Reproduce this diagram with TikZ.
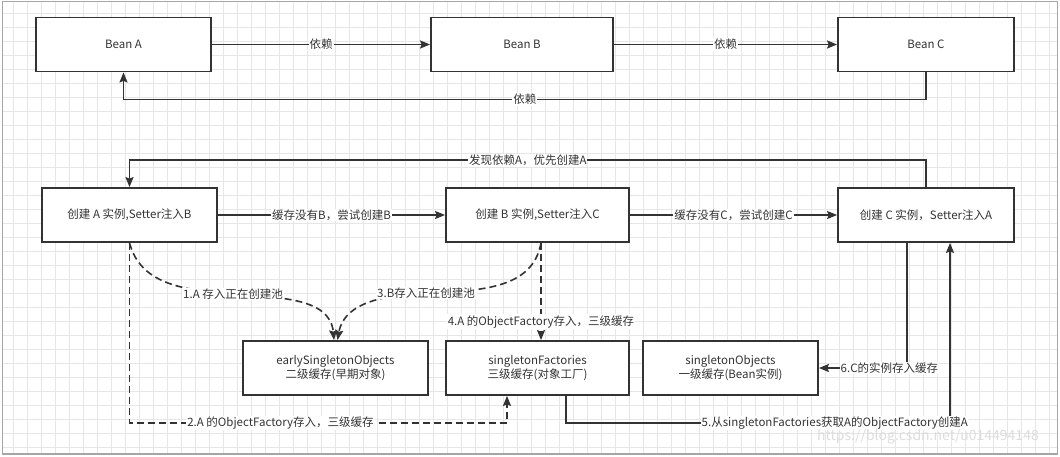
\documentclass[tikz,border=0pt]{standalone}
\usepackage{fontspec}
\setmainfont{Noto Sans CJK SC}
\usetikzlibrary{arrows.meta}
\definecolor{ink}{HTML}{333333}
\definecolor{gridc}{HTML}{E6E6E6}
\definecolor{framec}{HTML}{A6A6A6}
\definecolor{wmc}{HTML}{DCDCDC}
\begin{document}
\begin{tikzpicture}[x=1pt,y=-1pt,
 box/.style={draw=ink, line width=1.8pt, fill=white, minimum width=#1, minimum height=54pt, inner sep=0pt, text=ink, font=\fontsize{11.5}{14.5}\selectfont, align=center},
 conn/.style={draw=ink, line width=1.6pt, -{Stealth[length=10pt,width=8pt,inset=1.5pt]}},
 dconn/.style={conn, dash pattern=on 7pt off 4pt},
 lbl/.style={fill=white, inner sep=1pt, text=ink, font=\fontsize{11.5}{14}\selectfont},
]
\useasboundingbox (0,0) rectangle (1060,456);
% grid
\begin{scope}
\clip (2.5,1.5) rectangle (1057.5,454);
\foreach \i in {0,...,75} {\draw[gridc, line width=0.8pt] (13+14*\i,0) -- (13+14*\i,456);}
\foreach \j in {0,...,32} {\draw[gridc, line width=0.8pt] (0,13.3+14*\j) -- (1060,13.3+14*\j);}
\end{scope}
\draw[framec, line width=1.2pt] (2.5,1.5) rectangle (1057.5,454);

% row 1
\node[box=175pt] (beanA) at (123.5,44.5) {Bean A};
\node[box=182pt] (beanB) at (522,44.5) {Bean B};
\node[box=176pt] (beanC) at (926,44.5) {Bean C};
% row 2
\node[box=175pt] (rowA) at (129.5,215) {创建 A 实例,Setter注入B};
\node[box=183pt] (rowB) at (537.5,215) {创建 B 实例,Setter注入C};
\node[box=176pt] (rowC) at (926,215) {创建 C 实例，Setter注入A};
% row 3
\node[box=185pt] (early) at (335.5,368) {earlySingletonObjects\\二级缓存(早期对象)};
\node[box=183pt] (sF) at (537.5,368) {singletonFactories\\三级缓存(对象工厂)};
\node[box=175pt] (sO) at (730.5,368) {singletonObjects\\一级缓存(Bean实例)};

% row 1 connectors
\draw[conn] (beanA) -- node[lbl]{依赖} (beanB);
\draw[conn] (beanB) -- node[lbl]{依赖} (beanC);
\draw[conn] (beanC.south) -- ++(0,27) -| node[lbl,pos=0.25]{依赖} (beanA.south);

% row 2 connectors
\draw[conn] (rowC.north) -- ++(0,-27) -| node[lbl,pos=0.25]{发现依赖A，优先创建A} (rowA.north);
\draw[conn] (rowA) -- node[lbl]{缓存没有B，尝试创建B} (rowB);
\draw[conn] (rowB) -- node[lbl]{缓存没有C，尝试创建C} (rowC);

% dashed connectors
\coordinate (l1) at (233,294);
\coordinate (l3) at (426,293);
\draw[dconn] (rowA.south) to[out=-75,in=175] (l1) to[out=-5,in=95] ([xshift=-1.5pt]early.north);
\node[lbl] at (l1) {1.A 存入正在创建池};
\draw[dconn] ([xshift=3.5pt]rowB.south) to[out=-100,in=3] (l3) to[out=183,in=80] ([xshift=2pt]early.north);
\node[lbl] at (l3) {3.B存入正在创建池};
\draw[dconn] ([xshift=3.5pt]rowB.south) -- node[lbl,pos=0.81]{4.A 的ObjectFactory存入，三级缓存} ([xshift=3.5pt]sF.north);
\draw[dconn] (rowA.south) -- ++(0,180) -| node[lbl,pos=0.2]{2.A 的ObjectFactory存入，三级缓存} ([xshift=-30.5pt]sF.south);

% solid lower connectors
\draw[conn] ([xshift=28.5pt]sF.south) -- ++(0,27) -| node[lbl,pos=0.35]{5.从singletonFactories获取A的ObjectFactory创建A} ([xshift=24pt]rowC.south);
\draw[conn] ([xshift=-19pt]rowC.south) |- node[lbl,pos=0.6]{6.C的实例存入缓存} (sO.east);

% watermark
\node[text=wmc, font=\fontsize{14}{16}\selectfont, inner sep=0pt] (wm) at (928,437) {https://blog.csdn.net/u014494148};
\end{tikzpicture}
\end{document}
